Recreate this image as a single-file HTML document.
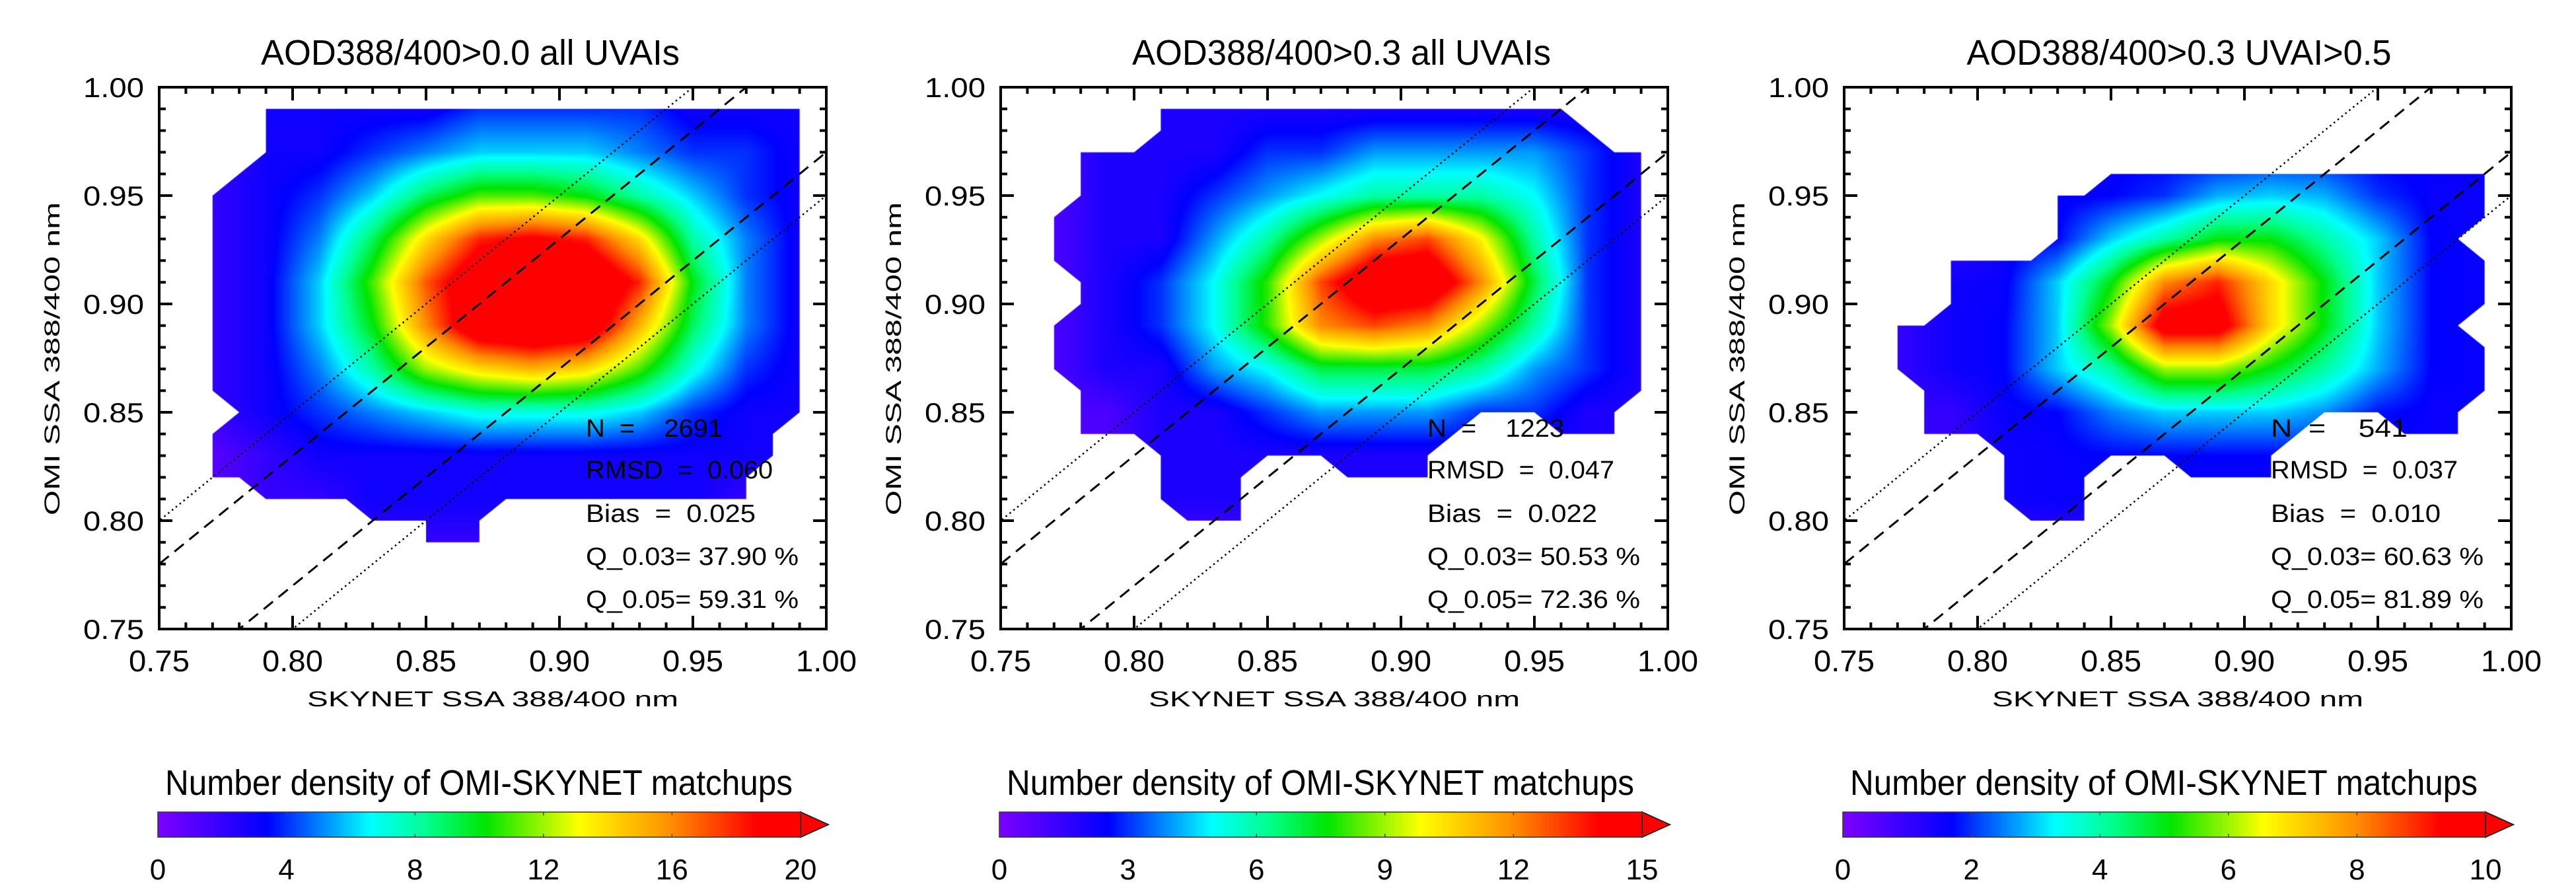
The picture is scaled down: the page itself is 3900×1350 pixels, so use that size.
<!DOCTYPE html>
<html><head><meta charset="utf-8">
<style>
html,body{margin:0;padding:0;background:#fff;}
#wrap{position:relative;width:3900px;height:1350px;overflow:hidden;background:#fff;}
canvas{position:absolute;}
svg{position:absolute;left:0;top:0;}
</style></head>
<body>
<div id="wrap">
<canvas id="c0"></canvas>
<canvas id="c1"></canvas>
<canvas id="c2"></canvas>
<svg id="svg" width="3900" height="1350" xmlns="http://www.w3.org/2000/svg"></svg>
</div>
<script>
// ---- data ----
const titles = ["AOD388/400>0.0  all UVAIs", "AOD388/400>0.3  all UVAIs", "AOD388/400>0.3  UVAI>0.5"];
const statN = ["2691", "1223", "541"];
const statRMSD = ["0.060", "0.047", "0.037"];
const statBias = ["0.025", "0.022", "0.010"];
const statQ03 = ["37.90", "50.53", "60.63"];
const statQ05 = ["59.31", "72.36", "81.89"];
const cbarMax = [20, 15, 10];
const cbarTicks1 = [0, 4, 8, 12, 16, 20];
const cbarTicks2 = [0, 3, 6, 9, 12, 15];
const cbarTicks3 = [0, 2, 4, 6, 8, 10];
const axisTicks = [0.75, 0.80, 0.85, 0.90, 0.95, 1.00];
const axisTickLabels = ["0.75", "0.80", "0.85", "0.90", "0.95", "1.00"];
const lineOffsetsDashed = [0.03, -0.03];
const lineOffsetsDotted = [0.05, -0.05];
// coarse density grids: columns x = 0.77..0.99 step 0.02, rows y = 0.99..0.79 step 0.02
const gridX = [0.77,0.79,0.81,0.83,0.85,0.87,0.89,0.91,0.93,0.95,0.97,0.99];
const gridY = [0.99,0.97,0.95,0.93,0.91,0.89,0.87,0.85,0.83,0.81,0.79];
const grid1 = [
[2,3,3,3,3,4,4,4,4,3,3,3],
[2,3,3,4,5,6,6,6,5,4,4,3],
[2,3,4,6,9,11,11,10,8,6,4,3],
[2,3,5,9,14,18,19,18,14,8,5,3],
[2,3,6,11,17,21,22,22,18,10,5,3],
[2,3,6,10,16,21,22,21,15,9,5,3],
[2,3,5,8,12,14,15,14,11,7,4,3],
[2,3,4,5,6,7,7,7,6,4,3,3],
[1,2,3,3,3,3,3,3,3,3,3,3],
[1,2,2,3,3,3,3,3,3,3,2,2],
[1,1,2,2,2,2,2,2,2,2,2,2]];
const grid2 = [
[1,1,2,2,2,2,2,2,2,2,2,2],
[1,2,2,2,3,3,4,4,4,4,3,2],
[1,2,2,3,4,5,6,6,6,5,3,2],
[1,2,2,4,6,9,12,13,10,6,3,2],
[1,2,3,5,8,13,16,16,12,7,3,2],
[1,2,3,5,8,12,13,12,9,6,3,2],
[1,2,2,4,5,7,7,7,6,4,3,2],
[1,1,2,2,3,4,4,4,3,3,2,2],
[1,1,2,2,2,2,2,2,2,2,2,2],
[1,1,2,2,2,2,2,2,2,2,2,2],
[1,1,1,1,1,1,1,1,1,1,1,1]];
const grid3 = [
[1,1,1,1,1.6,1.6,1.6,1.6,1.6,1.6,1.6,1.6],
[1,1,1,1,1.6,1.6,1.6,1.8,1.8,1.6,1.6,1.6],
[1,1,1.5,1.6,1.7,2,2.8,3,2.8,2,1.6,1.6],
[1,1,1.5,1.7,3,4,5,5,4,3,1.7,1.6],
[1,1.5,1.6,3,5,8,9,7,5,3,1.7,1.6],
[1,1.5,1.7,3,6,10,10,7,5,3,1.7,1.6],
[1,1.5,1.7,3,4,6,6,5,4,2.8,1.7,1.6],
[1,1,1.6,1.7,2.5,3,3,3,2.6,1.8,1.6,1.6],
[1,1,1.5,1.6,1.7,1.7,1.7,1.7,1.7,1.6,1.6,1.6],
[1,1,1.5,1.6,1.6,1.6,1.6,1.6,1.6,1.6,1.6,1.6],
[1,1,1,1,1,1,1,1,1,1,1,1]];
// outline of the covered data region (data coords)
const outline1 = [[0.79,0.99],[0.99,0.99],[0.99,0.85],[0.98,0.84],[0.98,0.83],[0.97,0.82],[0.97,0.81],[0.88,0.81],[0.87,0.80],[0.87,0.79],[0.85,0.79],[0.85,0.80],[0.83,0.80],[0.82,0.81],[0.79,0.81],[0.78,0.82],[0.77,0.82],[0.77,0.84],[0.78,0.85],[0.77,0.86],[0.77,0.95],[0.79,0.97]];
const outline2 = [[0.81,0.99],[0.96,0.99],[0.98,0.97],[0.99,0.97],[0.99,0.86],[0.98,0.85],[0.98,0.84],[0.96,0.84],[0.95,0.85],[0.93,0.85],[0.91,0.83],[0.91,0.82],[0.88,0.82],[0.87,0.83],[0.85,0.83],[0.84,0.82],[0.84,0.80],[0.82,0.80],[0.81,0.81],[0.81,0.83],[0.80,0.84],[0.78,0.84],[0.78,0.86],[0.77,0.87],[0.77,0.89],[0.78,0.90],[0.78,0.91],[0.77,0.92],[0.77,0.94],[0.78,0.95],[0.78,0.97],[0.80,0.97],[0.81,0.98]];
const outline3 = [[0.85,0.96],[0.99,0.96],[0.99,0.94],[0.98,0.93],[0.99,0.92],[0.99,0.90],[0.98,0.89],[0.99,0.88],[0.99,0.86],[0.98,0.85],[0.98,0.84],[0.96,0.84],[0.95,0.85],[0.93,0.85],[0.91,0.83],[0.91,0.82],[0.88,0.82],[0.87,0.83],[0.85,0.83],[0.84,0.82],[0.84,0.80],[0.82,0.80],[0.81,0.81],[0.81,0.83],[0.80,0.84],[0.78,0.84],[0.78,0.86],[0.77,0.87],[0.77,0.89],[0.78,0.89],[0.79,0.90],[0.79,0.92],[0.82,0.92],[0.83,0.93],[0.83,0.95],[0.84,0.95]];

const grids = [grid1, grid2, grid3];
const outlines = [outline1, outline2, outline3];
const cbarTicks = [cbarTicks1, cbarTicks2, cbarTicks3];

// ---- layout ----
const plotL = [241, 1515, 2792], plotT = 132, plotW = 1010, plotH = 820;
const titleX = [712, 2031, 3299], titleLen = [634, 634, 643];
const cbT = 1229, cbH = 38, cbW = 973;

const stops = [[0,[125,0,255]],[0.17,[0,0,255]],[0.33,[0,255,255]],[0.42,[0,255,140]],[0.51,[0,230,0]],[0.655,[255,255,0]],[0.8,[255,140,0]],[0.93,[255,0,0]],[1,[255,0,0]]];
function cmap(t){
  t = Math.max(0, Math.min(1, t));
  for (let i=1;i<stops.length;i++){
    if (t <= stops[i][0]){
      const a = stops[i-1], b = stops[i], f = (t-a[0])/(b[0]-a[0]);
      return [0,1,2].map(k => Math.round(a[1][k] + (b[1][k]-a[1][k])*f));
    }
  }
  return stops[stops.length-1][1];
}
function sample(g, x, y){
  let fi = (x - gridX[0])/(gridX[1]-gridX[0]);
  let fj = (gridY[0] - y)/(gridY[0]-gridY[1]);
  fi = Math.max(0, Math.min(gridX.length-1.0001, fi));
  fj = Math.max(0, Math.min(gridY.length-1.0001, fj));
  const i = Math.floor(fi), j = Math.floor(fj), u = fi-i, v = fj-j;
  return g[j][i]*(1-u)*(1-v) + g[j][i+1]*u*(1-v) + g[j+1][i]*(1-u)*v + g[j+1][i+1]*u*v;
}

const NS = "http://www.w3.org/2000/svg";
const svg = document.getElementById('svg');
function el(tag, attrs, parent, text){
  const e = document.createElementNS(NS, tag);
  for (const k in attrs) e.setAttribute(k, attrs[k]);
  if (text !== undefined) e.textContent = text;
  (parent || svg).appendChild(e);
  return e;
}
const defs = el('defs', {});

for (let p=0;p<3;p++){
  const L = plotL[p];
  const xs = v => L + (v-0.75)/0.25*plotW;
  const ys = v => plotT + (1-v)/0.25*plotH;

  // heatmap canvas
  const cv = document.getElementById('c'+p);
  cv.width = plotW; cv.height = plotH;
  cv.style.left = L+'px'; cv.style.top = plotT+'px';
  const off = document.createElement('canvas');
  off.width = plotW; off.height = plotH;
  const octx = off.getContext('2d');
  const img = octx.createImageData(plotW, plotH);
  for (let py=0; py<plotH; py++){
    const yv = 1 - (py+0.5)/plotH*0.25;
    for (let px=0; px<plotW; px++){
      const xv = 0.75 + (px+0.5)/plotW*0.25;
      const c = cmap(sample(grids[p], xv, yv)/cbarMax[p]);
      const idx = (py*plotW+px)*4;
      img.data[idx]=c[0]; img.data[idx+1]=c[1]; img.data[idx+2]=c[2]; img.data[idx+3]=255;
    }
  }
  octx.putImageData(img,0,0);
  const ctx = cv.getContext('2d');
  ctx.beginPath();
  outlines[p].forEach((pt,i)=>{
    const X = xs(pt[0])-L, Y = ys(pt[1])-plotT;
    if (i===0) ctx.moveTo(X,Y); else ctx.lineTo(X,Y);
  });
  ctx.closePath(); ctx.clip();
  ctx.drawImage(off,0,0);

  const g = el('g', {});
  
  

  const cp = el('clipPath', {id:'clip'+p}, defs);
  el('rect', {x:L, y:plotT, width:plotW, height:plotH}, cp);

  const lg = el('g', {'clip-path':'url(#clip'+p+')'}, g);
  lineOffsetsDashed.forEach(o=>{
    const ln = el('line', {x1:xs(0.70), y1:ys(0.70+o), x2:xs(1.05), y2:ys(1.05+o), stroke:'#000', 'stroke-width':3, 'stroke-dasharray':'18 11'}, lg);
    
    
  });
  lineOffsetsDotted.forEach(o=>{
    const ln = el('line', {x1:xs(0.70), y1:ys(0.70+o), x2:xs(1.05), y2:ys(1.05+o), stroke:'#000', 'stroke-width':2.5, 'stroke-dasharray':'2.5 5'}, lg);
    
    
  });

  const box = el('rect', {x:L, y:plotT, width:plotW, height:plotH, fill:'none', stroke:'#000', 'stroke-width':4}, g);
  
  

  let d = '';
  for (let k=0;k<=25;k++){
    const v = 0.75 + k*0.01, len = (k%5===0)?20:10;
    const X = xs(v), Y = ys(v);
    d += `M${X},${plotT+plotH}v${-len}M${X},${plotT}v${len}M${L},${Y}h${len}M${L+plotW},${Y}h${-len}`;
  }
  const tk = el('path', {d:d, stroke:'#000', 'stroke-width':4, fill:'none'}, g);
  
  

  axisTicks.forEach((v,i)=>{
    const tx = el('text', {x:xs(v), y:1016, 'font-family':'Liberation Sans, sans-serif', 'font-size':45, 'text-anchor':'middle', textLength:92, lengthAdjust:'spacingAndGlyphs'}, g, axisTickLabels[i]);
    
    
    const ty = el('text', {x:L-23, y:ys(v)+15, 'font-family':'Liberation Sans, sans-serif', 'font-size':42, 'text-anchor':'end', textLength:92, lengthAdjust:'spacingAndGlyphs'}, g, axisTickLabels[i]);
    
    
  });

  const xt = el('text', {x:L+505, y:1069, 'font-family':'Liberation Sans, sans-serif', 'font-size':32, 'text-anchor':'middle', textLength:562, lengthAdjust:'spacingAndGlyphs'}, g, 'SKYNET SSA 388/400 nm');
  
  
  const ytx = L-162, yty = 543;
  const yt = el('text', {x:ytx, y:yty+11, transform:`rotate(-90 ${ytx} ${yty})`, 'font-family':'Liberation Sans, sans-serif', 'font-size':32, 'text-anchor':'middle', textLength:474, lengthAdjust:'spacingAndGlyphs'}, g, 'OMI SSA 388/400 nm');
  
  

  const tt = el('text', {x:titleX[p], y:98, 'font-family':'Liberation Sans, sans-serif', 'font-size':54, 'text-anchor':'middle', textLength:titleLen[p], lengthAdjust:'spacingAndGlyphs'}, g, titles[p]);
  
  

  const sx = L + 646;
  const lines = ['N  =    '+statN[p], 'RMSD  =  '+statRMSD[p], 'Bias  =  '+statBias[p], 'Q_0.03= '+statQ03[p]+' %', 'Q_0.05= '+statQ05[p]+' %'];
  const lens = [207, 283, 257, 322, 322];
  const sy = [661, 724, 790, 855, 920];
  lines.forEach((s,i)=>{
    const t = el('text', {x:sx, y:sy[i], 'font-family':'Liberation Sans, sans-serif', 'font-size':38, 'xml:space':'preserve', textLength:lens[i], lengthAdjust:'spacingAndGlyphs'}, g, s);
    t.style.whiteSpace = 'pre';
    
    
  });

  const cbL = L - 2;
  const cg = el('g', {}, g);
  
  
  const nSeg = 200;
  for (let s=0;s<nSeg;s++){
    const c = cmap((s+0.5)/nSeg);
    el('rect', {x:cbL + s*cbW/nSeg, y:cbT, width:cbW/nSeg+0.8, height:cbH, fill:`rgb(${c[0]},${c[1]},${c[2]})`}, cg);
  }
  el('rect', {x:cbL, y:cbT, width:cbW, height:cbH, fill:'none', stroke:'#333', 'stroke-width':1.5}, cg);
  const ar = el('path', {d:`M${cbL+cbW},${cbT}L${cbL+cbW+42},${cbT+cbH/2}L${cbL+cbW},${cbT+cbH}Z`, fill:'rgb(255,0,0)', stroke:'#222', 'stroke-width':2}, cg);
  
  
  cbarTicks[p].forEach(v=>{
    const X = cbL + v/cbarMax[p]*cbW;
    el('path', {d:`M${X},${cbT}v5M${X},${cbT+cbH}v-5`, stroke:'#444', 'stroke-width':1.5}, cg);
    const t = el('text', {x:X, y:1331, 'font-family':'Liberation Sans, sans-serif', 'font-size':44, 'text-anchor':'middle'}, cg, String(v));
    
    
  });
  const ct = el('text', {x:L+484, y:1203, 'font-family':'Liberation Sans, sans-serif', 'font-size':54, 'text-anchor':'middle', textLength:950, lengthAdjust:'spacingAndGlyphs'}, cg, 'Number density of OMI-SKYNET matchups');
  
  
}
</script>
</body></html>
